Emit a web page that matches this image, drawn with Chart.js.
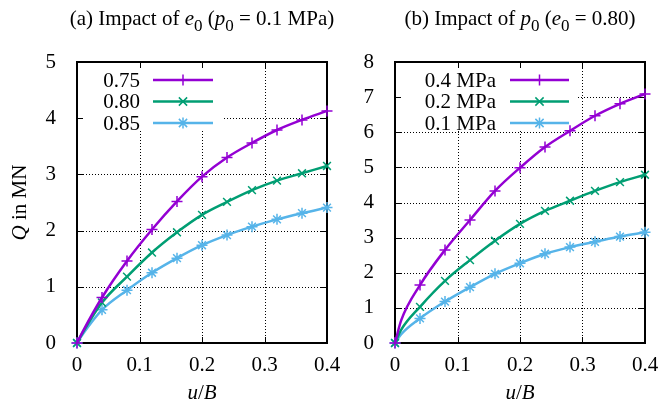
<!DOCTYPE html>
<html>
<head>
<meta charset="utf-8">
<script src="https://cdn.jsdelivr.net/npm/chart.js@4.4.1/dist/chart.umd.min.js"></script>
<style>
  html, body { margin: 0; padding: 0; background: #fff; }
  #wrap { position: relative; width: 662px; height: 409px; overflow: hidden; background: #fff; }
  canvas { position: absolute; top: 0; }
</style>
</head>
<body>
<div id="wrap">
  <canvas id="cA" width="360" height="409" style="left:0px"></canvas>
  <canvas id="cB" width="331" height="409" style="left:331px"></canvas>
</div>
<script>
// ---------- data ----------
const uB = [0, 0.04, 0.08, 0.12, 0.16, 0.20, 0.24, 0.28, 0.32, 0.36, 0.40];
const xTickLabels = ['0', '0.1', '0.2', '0.3', '0.4'];

// panel (a): impact of e0 (p0 = 0.1 MPa)
const labelsA = ['0.75', '0.80', '0.85'];
const qE075 = [0, 0.81, 1.46, 2.02, 2.52, 2.96, 3.30, 3.56, 3.79, 3.97, 4.13];
const qE080 = [0, 0.72, 1.18, 1.61, 1.97, 2.28, 2.51, 2.72, 2.89, 3.02, 3.15];
const qE085 = [0, 0.59, 0.94, 1.25, 1.51, 1.74, 1.92, 2.07, 2.20, 2.31, 2.41];
const startA = [0.22, 0.20, 0.17];   // curve value read at u/B = 0.01

// panel (b): impact of p0 (e0 = 0.80)
const labelsB = ['0.4 MPa', '0.2 MPa', '0.1 MPa'];
const qP04 = [0, 1.65, 2.65, 3.50, 4.33, 4.99, 5.58, 6.04, 6.47, 6.81, 7.09];
const qP02 = [0, 1.03, 1.77, 2.36, 2.91, 3.39, 3.76, 4.05, 4.33, 4.58, 4.79];
const qP01 = [0, 0.70, 1.18, 1.59, 1.97, 2.27, 2.54, 2.73, 2.88, 3.03, 3.15];
const startB = [0.65, 0.38, 0.25];   // curve value read at u/B = 0.01
const uStart = 0.01;

// ---------- styles ----------
const COLORS = ['#9400d3', '#009e73', '#56b4e9'];
const STYLES = ['cross', 'crossRot', 'star'];
const FONT = 'Liberation Serif';
const FS = 21;
const FSUB = 17;

function seriesData(q, s0) {
  const pts = [{x: uB[0], y: q[0], m: true}, {x: uStart, y: s0, m: false}];
  for (let i = 1; i < uB.length; i++) pts.push({x: uB[i], y: q[i], m: true});
  return pts;
}

function drawMarker(ctx, style, x, y, r, color) {
  ctx.save();
  ctx.strokeStyle = color; ctx.lineWidth = 1.5; ctx.setLineDash([]);
  ctx.beginPath();
  if (style === 'cross' || style === 'star') {
    ctx.moveTo(x - r, y); ctx.lineTo(x + r, y);
    ctx.moveTo(x, y - r); ctx.lineTo(x, y + r);
  }
  if (style === 'crossRot' || style === 'star') {
    const d = r * 0.75;
    ctx.moveTo(x - d, y - d); ctx.lineTo(x + d, y + d);
    ctx.moveTo(x - d, y + d); ctx.lineTo(x + d, y - d);
  }
  ctx.stroke();
  ctx.restore();
}

function drawRuns(ctx, runs, cx, baseline) {
  const set = r => {
    const sz = r.sub ? FSUB : FS;
    ctx.font = (r.it ? 'italic ' : '') + sz + 'px "' + FONT + '"';
  };
  let w = 0;
  runs.forEach(r => { set(r); w += ctx.measureText(r.t).width; });
  let x = cx - w / 2;
  ctx.textAlign = 'left'; ctx.textBaseline = 'alphabetic'; ctx.fillStyle = '#000';
  runs.forEach(r => {
    set(r);
    ctx.fillText(r.t, x, baseline + (r.sub ? 6 : 0));
    x += ctx.measureText(r.t).width;
  });
}

function makePanel(id, cfg) {
  const datasets = cfg.series.map((q, i) => ({
    label: cfg.labels[i],
    data: seriesData(q, cfg.starts[i]),
    borderColor: COLORS[i],
    backgroundColor: COLORS[i],
    borderWidth: 2.5,
    cubicInterpolationMode: 'monotone',
    pointStyle: STYLES[i],
    pointRadius: c => (c.raw && c.raw.m ? 5.5 : 0),
    pointBorderWidth: 1.5,
    pointBorderColor: COLORS[i],
    pointHoverRadius: 0,
    clip: 10
  }));

  const deco = {
    id: 'deco_' + id,
    beforeDatasetsDraw(chart) {
      const ctx = chart.ctx;
      const {left, right, top, bottom} = chart.chartArea;
      const xs = chart.scales.x, ys = chart.scales.y;
      ctx.save();
      // dotted grid
      ctx.strokeStyle = '#000'; ctx.lineWidth = 1; ctx.setLineDash([1, 2]);
      xs.ticks.forEach(t => {
        if (t.value > xs.min + 1e-9 && t.value < xs.max - 1e-9) {
          const px = Math.round(xs.getPixelForValue(t.value)) + 0.5;
          ctx.beginPath(); ctx.moveTo(px, top); ctx.lineTo(px, bottom); ctx.stroke();
        }
      });
      ys.ticks.forEach(t => {
        if (t.value > ys.min + 1e-9 && t.value < ys.max - 1e-9) {
          const py = Math.round(ys.getPixelForValue(t.value)) + 0.5;
          ctx.beginPath(); ctx.moveTo(left, py); ctx.lineTo(right, py); ctx.stroke();
        }
      });
      ctx.setLineDash([]);
      // key (opaque box)
      const k = cfg.key;
      ctx.fillStyle = '#fff';
      ctx.fillRect(left + 1, top + 1, k.w, k.h);
      ctx.font = FS + 'px "' + FONT + '"';
      ctx.textAlign = 'right'; ctx.textBaseline = 'middle';
      cfg.labels.forEach((lab, i) => {
        const y = top + k.row0 + i * k.dy;
        ctx.fillStyle = '#000';
        ctx.fillText(lab, left + k.textRight, y + 1);
        ctx.strokeStyle = COLORS[i]; ctx.lineWidth = 2.5;
        ctx.beginPath(); ctx.moveTo(left + k.l0, y); ctx.lineTo(left + k.l1, y); ctx.stroke();
        drawMarker(ctx, STYLES[i], left + (k.l0 + k.l1) / 2, y, 5.5, COLORS[i]);
      });
      // border
      ctx.strokeStyle = '#000'; ctx.lineWidth = 2;
      ctx.strokeRect(Math.round(left), Math.round(top), Math.round(right - left), Math.round(bottom - top));
      // inward ticks, mirrored
      ctx.lineWidth = 1;
      const TL = 6;
      xs.ticks.forEach(t => {
        const px = Math.round(xs.getPixelForValue(t.value)) + 0.5;
        ctx.beginPath();
        ctx.moveTo(px, bottom); ctx.lineTo(px, bottom - TL);
        ctx.moveTo(px, top); ctx.lineTo(px, top + TL);
        ctx.stroke();
      });
      ys.ticks.forEach(t => {
        const py = Math.round(ys.getPixelForValue(t.value)) + 0.5;
        ctx.beginPath();
        ctx.moveTo(left, py); ctx.lineTo(left + TL, py);
        ctx.moveTo(right, py); ctx.lineTo(right - TL, py);
        ctx.stroke();
      });
      ctx.restore();
    },
    afterDraw(chart) {
      const ctx = chart.ctx;
      const {left, right, top, bottom} = chart.chartArea;
      const cx = (left + right) / 2;
      ctx.save();
      drawRuns(ctx, cfg.title, cx, 25);
      drawRuns(ctx, [{t: 'u', it: true}, {t: '/'}, {t: 'B', it: true}], cx, 399);
      if (cfg.ylabel) {
        ctx.translate(26, (top + bottom) / 2);
        ctx.rotate(-Math.PI / 2);
        drawRuns(ctx, [{t: 'Q', it: true}, {t: ' in MN'}], 0, 0);
      }
      ctx.restore();
    }
  };

  return new Chart(document.getElementById(id), {
    type: 'line',
    data: { datasets },
    options: {
      responsive: false,
      animation: false,
      devicePixelRatio: 1,
      events: [],
      layout: { padding: { left: 0, right: cfg.padRight, top: 62, bottom: 0 } },
      plugins: { legend: { display: false }, title: { display: false }, tooltip: { enabled: false } },
      scales: {
        x: {
          type: 'linear', min: 0, max: 0.4,
          grid: { display: false }, border: { display: false },
          ticks: {
            stepSize: 0.1, padding: 2, color: '#000', maxRotation: 0,
            font: { family: FONT, size: FS },
            callback: (v, i) => xTickLabels[i]
          },
          afterFit: s => { s.height = 66; s.paddingLeft = 0; s.paddingRight = 0; }
        },
        y: {
          type: 'linear', min: 0, max: cfg.ymax,
          grid: { display: false }, border: { display: false },
          ticks: {
            stepSize: 1, padding: 13, color: '#000',
            font: { family: FONT, size: FS },
            callback: v => String(v)
          },
          afterFit: s => { s.width = cfg.yWidth; s.paddingTop = 0; s.paddingBottom = 0; }
        }
      }
    },
    plugins: [deco]
  });
}

makePanel('cA', {
  labels: labelsA,
  series: [qE075, qE080, qE085],
  starts: startA,
  ymax: 5, yWidth: 77, padRight: 33, ylabel: true,
  key: { w: 144, h: 68, row0: 18, dy: 21.5, textRight: 63, l0: 76, l1: 136 },
  title: [{t: '(a) Impact of '}, {t: 'e', it: true}, {t: '0', sub: true}, {t: ' ('},
          {t: 'p', it: true}, {t: '0', sub: true}, {t: ' = 0.1 MPa)'}]
});

makePanel('cB', {
  labels: labelsB,
  series: [qP04, qP02, qP01],
  starts: startB,
  ymax: 8, yWidth: 64, padRight: 17, ylabel: false,
  key: { w: 182, h: 68, row0: 18, dy: 21.5, textRight: 101, l0: 115, l1: 174 },
  title: [{t: '(b) Impact of '}, {t: 'p', it: true}, {t: '0', sub: true}, {t: ' ('},
          {t: 'e', it: true}, {t: '0', sub: true}, {t: ' = 0.80)'}]
});
</script>
</body>
</html>
